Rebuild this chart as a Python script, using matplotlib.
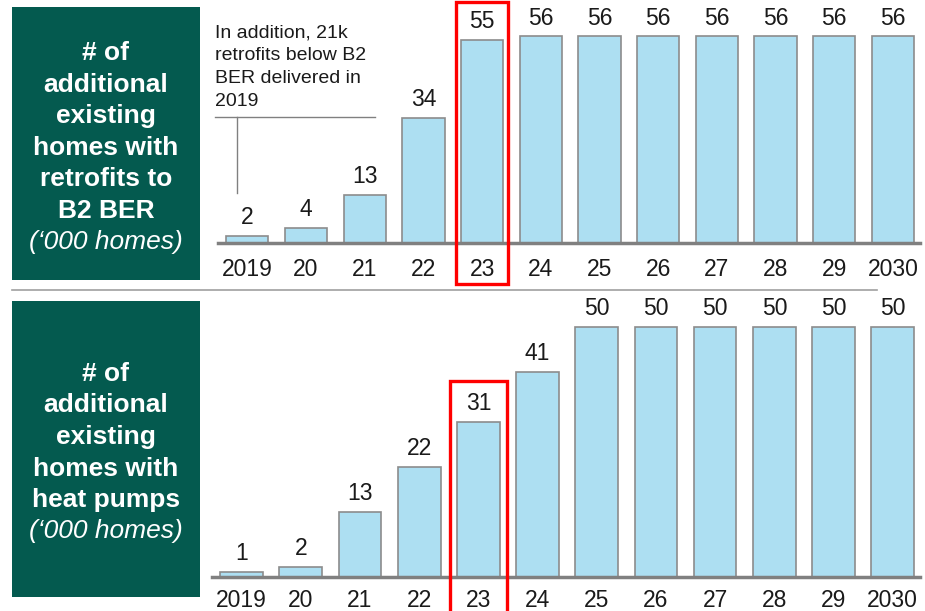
import matplotlib
matplotlib.use("Agg")
import matplotlib.pyplot as plt
from matplotlib.patches import Rectangle
from matplotlib.lines import Line2D

plt.rcParams['font.family'] = ['Liberation Sans', 'DejaVu Sans']

years = ["2019", "20", "21", "22", "23", "24", "25", "26", "27", "28", "29", "2030"]
retrofits = [2, 4, 13, 34, 55, 56, 56, 56, 56, 56, 56, 56]
heat_pumps = [1, 2, 13, 22, 31, 41, 50, 50, 50, 50, 50, 50]
highlight_idx = 4

top_title = "# of\nadditional\nexisting\nhomes with\nretrofits to\nB2 BER"
bottom_title = "# of\nadditional\nexisting\nhomes with\nheat pumps"
unit_text = "(\u2018000 homes)"
note_text = "In addition, 21k\nretrofits below B2\nBER delivered in\n2019"

GREEN = "#045A4F"
BLUE = "#ADDFF2"
EDGE = "#8C8C8C"
AXIS = "#808080"
RED = "#FF0000"

W, H = 925, 611
fig = plt.figure(figsize=(W / 100, H / 100), dpi=100)


def fx(px):
    return px / W


def fy(py):
    return 1 - py / H


def panel(values, left_px, right_px, base_px, top_px, ylim_top, box_top_px, box_bot, box_half, pad):
    ax = fig.add_axes([fx(left_px), fy(base_px), fx(right_px - left_px), (base_px - top_px) / H])
    x = list(range(len(values)))
    ax.bar(x, values, width=0.72, color=BLUE, edgecolor=EDGE, linewidth=1.2, zorder=2)
    for xi, v in zip(x, values):
        ax.annotate(str(v), (xi, v), xytext=(0, 5), textcoords="offset points",
                    ha="center", va="bottom", fontsize=16.5, color="#1a1a1a")
    ax.set_xlim(-0.5, len(values) - 0.54)
    ax.set_ylim(0, ylim_top)
    ax.set_xticks(x)
    ax.set_xticklabels(years, fontsize=16.5, color="#1a1a1a")
    ax.tick_params(axis="x", length=0, pad=pad)
    ax.set_yticks([])
    for s in ["top", "right", "left"]:
        ax.spines[s].set_visible(False)
    ax.spines["bottom"].set_color(AXIS)
    ax.spines["bottom"].set_linewidth(2.5)
    ax.patch.set_alpha(0)
    rect = Rectangle((highlight_idx - box_half, box_bot), 2 * box_half, box_top_px - box_bot,
                     fill=False, edgecolor=RED, linewidth=2.4, clip_on=False, zorder=5)
    ax.add_patch(rect)
    return ax


ax1 = panel(retrofits, 218, 920, 243, 7, 64.0, 65.3, -11.0, 0.44, 11)
ax2 = panel(heat_pumps, 212, 920, 577, 300, 55.4, 39.2, -10.0, 0.48, 8.5)

fig.patches.append(Rectangle((fx(12), fy(280)), fx(188), (280 - 7) / H,
                             transform=fig.transFigure, facecolor=GREEN, edgecolor="none", zorder=0))
fig.patches.append(Rectangle((fx(12), fy(597)), fx(188), (597 - 301) / H,
                             transform=fig.transFigure, facecolor=GREEN, edgecolor="none", zorder=0))

fig.text(fx(106), fy(132), top_title, ha="center", va="center", fontsize=19, fontweight="bold",
         color="white", linespacing=1.40)
fig.text(fx(106), fy(242), unit_text, ha="center", va="center", fontsize=19, fontstyle="italic",
         color="white")
fig.text(fx(106), fy(437), bottom_title, ha="center", va="center", fontsize=19, fontweight="bold",
         color="white", linespacing=1.40)
fig.text(fx(106), fy(531), unit_text, ha="center", va="center", fontsize=19, fontstyle="italic",
         color="white")

fig.text(fx(215), fy(24), note_text, ha="left", va="top", fontsize=14, color="#1a1a1a",
         linespacing=1.45)
fig.add_artist(Line2D([fx(215), fx(375)], [fy(117), fy(117)], color=AXIS, linewidth=1.0))
fig.add_artist(Line2D([fx(237), fx(237)], [fy(117), fy(193)], color=AXIS, linewidth=1.0))

fig.add_artist(Line2D([fx(12), fx(877)], [fy(290), fy(290)], color="#A0A0A0", linewidth=1.2))

fig.savefig("out.png", dpi=100, facecolor="white")
